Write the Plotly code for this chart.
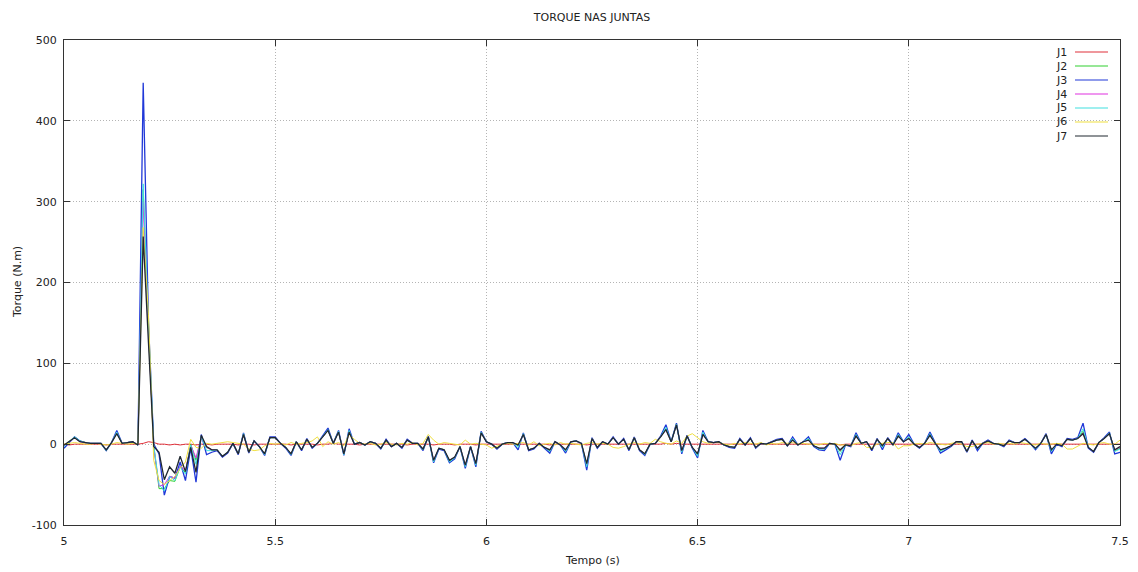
import numpy as np
import plotly.graph_objects as go

# time samples (s)
t_start, t_step, n_pts = 5.0, 0.0125, 201
tempo = [round(t_start + i * t_step, 4) for i in range(n_pts)]

J1 = [0, -1, 0, 0, 0, 0, 0, 0, -1, 0,
      0, 0, 0, 0, 0, 1, 3, 2, 0, 0,
      -1, 0, -1, 0, 0, -1, 0, 0, -1, 0,
      0, 0, 0, -1, 0, 0, -1, 0, 0, 0,
      0, 0, 0, -1, 0, 0, 0, 0, -1, 0,
      0, 1, 0, 0, 0, 0, -1, 0, 0, 0,
      0, 0, 0, 0, 0, -1, 0, 0, 0, 0,
      -1, 0, 0, 0, -1, 0, 0, 0, -1, 0,
      0, 0, 0, 0, 0, 0, 0, 0, 0, 0,
      0, 0, -1, 0, 0, 0, 0, 0, 0, -1,
      0, 0, 0, 0, 0, 0, 0, 0, 0, 0,
      0, 0, 0, 0, 1, 0, 1, 0, 0, 0,
      0, 0, 0, 0, 0, 0, 0, 0, 0, 0,
      0, 0, 0, 0, 0, 0, 0, 0, 0, 0,
      0, 0, 0, 0, 0, 0, 0, -1, 0, 0,
      0, 0, 0, 0, 0, 0, 0, 0, 0, 0,
      0, 0, 0, 0, 0, 0, 0, 0, 0, 0,
      0, 0, 0, 0, 0, 0, 0, 0, 0, 0,
      0, 0, 0, 0, 0, 0, 0, 0, 0, 0,
      0, 0, 0, 0, 0, 0, 0, 0, 0, 0,
      0]

J2 = [-2, 3, 9, 4, 2, 1, 1, 1, -7, 2,
      14, 1, 2, 3, -1, 315, 140, -2, -55, -55,
      -45, -46, -28, -35, 0, -20, 9, -4, -7, -7,
      -15, -10, 1, -12, 12, -10, 4, -3, -12, 8,
      8, 1, -4, -12, 3, -7, 6, -4, 1, 9,
      17, 1, 15, -12, 16, 0, 2, -1, 3, 1,
      -5, 5, -3, 1, -4, 5, 1, 1, -6, 9,
      -21, -5, -7, -21, -16, -3, -27, -3, -25, 14,
      3, 0, -5, 0, 2, 2, -2, 12, -7, -5,
      1, -4, -8, 3, -1, -8, 3, 4, 1, -26,
      7, -4, 3, 0, 8, 0, 6, -7, 8, -7,
      -12, 0, 1, 9, 19, 3, 24, -9, 10, -4,
      -13, 13, 3, 2, 3, -1, -3, -4, 6, -1,
      7, -4, 1, 0, 3, 5, 6, -2, 6, -1,
      3, 6, -2, -5, -6, 1, 0, -9, -1, -2,
      11, 1, 3, -7, 6, -3, 7, -1, 11, 3,
      8, 0, -4, 1, 12, 1, -8, -5, -2, 3,
      3, -9, 4, -6, 1, 4, 1, 0, -2, 4,
      2, 2, 6, 1, -6, 1, 12, -8, 0, -2,
      6, 5, 7, 16, -4, -9, 2, 7, 13, -8,
      -5]

J3 = [-5, 2, 9, 4, 2, 1, 1, 1, -8, 2,
      17, 1, 2, 3, -1, 447, 150, 0, -12, -63,
      -40, -42, -22, -45, -5, -47, 12, -13, -10, -8,
      -16, -11, 1, -13, 14, -11, 4, -3, -14, 9,
      9, 1, -5, -14, 3, -8, 7, -5, 1, 10,
      20, 1, 17, -14, 19, 0, 2, -1, 3, 1,
      -6, 6, -3, 1, -5, 6, 1, 1, -8, 10,
      -23, -6, -8, -23, -18, -3, -30, -3, -28, 16,
      3, 0, -6, 0, 2, 2, -7, 14, -8, -6,
      1, -5, -11, 3, -1, -11, 3, 4, 1, -32,
      8, -5, 3, 0, 9, 0, 7, -8, 9, -8,
      -14, 0, 1, 10, 24, 3, 26, -12, 11, -5,
      -17, 17, 3, 2, 3, -1, -4, -5, 7, -1,
      8, -5, 1, 0, 3, 6, 7, -2, 9, -1,
      3, 9, -3, -7, -8, 1, 0, -20, -1, -3,
      14, 1, 3, -8, 7, -7, 8, -1, 14, 3,
      12, 0, -5, 1, 15, 1, -11, -7, -3, 3,
      3, -10, 5, -8, 1, 5, 1, 0, -3, 5,
      2, 2, 7, 1, -7, 1, 13, -12, 0, -3,
      7, 6, 8, 26, -5, -10, 2, 8, 15, -12,
      -10]

J4 = [-2, 3, 8, 3, 2, 1, 1, 1, -7, 2,
      14, 1, 2, 3, -1, 300, 138, -4, -52, -50,
      -40, -42, -27, -33, -1, -17, 9, -4, -7, -7,
      -15, -10, 1, -12, 12, -10, 4, -3, -12, 8,
      8, 1, -4, -12, 3, -7, 6, -4, 1, 9,
      17, 1, 15, -12, 15, 0, 2, -1, 3, 1,
      -5, 5, -3, 1, -4, 5, 1, 1, -6, 9,
      -20, -5, -7, -20, -16, -3, -26, -3, -24, 14,
      3, 0, -5, 0, 2, 2, -1, 12, -7, -5,
      1, -4, -7, 3, -1, -7, 3, 4, 1, -25,
      7, -4, 3, 0, 8, 0, 6, -7, 8, -7,
      -12, 0, 1, 9, 18, 3, 24, -8, 10, -4,
      -12, 12, 3, 2, 3, -1, -3, -4, 6, -1,
      7, -4, 1, 0, 3, 5, 6, -2, 5, -1,
      3, 5, -2, -5, -5, 1, 0, -8, -1, -2,
      10, 1, 3, -7, 6, -2, 7, -1, 10, 3,
      7, 0, -4, 1, 11, 1, -7, -5, -2, 3,
      3, -9, 4, -5, 1, 4, 1, 0, -2, 4,
      2, 2, 6, 1, -5, 1, 12, -7, 0, -2,
      6, 5, 7, 14, -4, -9, 2, 7, 13, -7,
      -4]

J5 = [-3, 3, 9, 4, 2, 1, 1, 1, -8, 2,
      15, 1, 2, 3, -1, 322, 148, -1, -50, -58,
      -40, -45, -28, -37, -1, -25, 10, -8, -8, -7,
      -15, -10, 1, -12, 13, -10, 4, -3, -13, 8,
      8, 1, -4, -13, 3, -7, 6, -4, 1, 9,
      18, 1, 16, -13, 17, 0, 2, -1, 3, 1,
      -5, 5, -3, 1, -4, 5, 1, 1, -7, 9,
      -22, -5, -7, -22, -17, -3, -28, -3, -26, 15,
      3, 0, -5, 0, 2, 2, -4, 13, -7, -5,
      1, -4, -9, 3, -1, -9, 3, 4, 1, -28,
      7, -4, 3, 0, 8, 0, 6, -7, 8, -7,
      -13, 0, 1, 9, 21, 3, 25, -10, 10, -4,
      -15, 15, 3, 2, 3, -1, -3, -4, 6, -1,
      7, -4, 1, 0, 3, 5, 6, -2, 7, -1,
      3, 7, -2, -6, -6, 1, 0, -13, -1, -2,
      12, 1, 3, -7, 6, -4, 7, -1, 12, 3,
      9, 0, -4, 1, 13, 1, -9, -6, -2, 3,
      3, -9, 4, -6, 1, 4, 1, 0, -2, 4,
      2, 2, 6, 1, -6, 1, 12, -9, 0, -2,
      6, 5, 7, 19, -4, -9, 2, 7, 14, -9,
      -6]

J6 = [0, 1, 2, 1, 0, 0, 1, 0, -1, 0,
      2, 1, 0, 1, 0, 268, 160, -20, -45, -50,
      -45, -40, -30, -22, 6, -4, -5, 1, 0, 1,
      2, 3, 2, 1, 0, -6, -8, -7, -2, 1,
      0, 1, -1, 2, 0, 1, 2, 4, 9, -3,
      3, 0, 2, -2, 12, 6, 1, 0, 1, -1,
      0, 2, 0, -1, 1, 0, 2, -1, 1, 12,
      5, 0, 2, 1, 0, -1, 5, 0, 1, 0,
      -1, -5, -2, 0, 1, 0, 1, 2, -1, 3,
      -2, 0, 1, -1, 2, 0, 1, 0, -1, 1,
      2, 0, 1, 0, -4, -5, -3, 0, 2, 0,
      2, 1, 6, 3, 1, 0, 4, 1, 10, 13,
      8, 3, 1, 2, 2, 0, -1, 1, 0, 2,
      1, 0, 2, -1, 1, 0, 2, 1, 2, 0,
      1, 0, 0, -1, 1, 0, 1, -1, -1, -2,
      1, 2, -4, -4, 0, 1, 2, 2, -6, -2,
      -2, 0, 1, 0, 2, 1, 0, -1, 1, 2,
      0, -3, -3, 0, 1, 2, 0, 1, 0, 1,
      0, 2, 1, 0, -1, 1, 0, 0, 1, 0,
      -6, -6, -2, 1, 0, -1, 1, 2, 0, 0,
      5]

J7 = [-1, 3, 8, 3, 2, 1, 1, 1, -7, 2,
      13, 1, 2, 3, -1, 257, 125, -3, -10, -44,
      -28, -36, -15, -34, -4, -35, 11, -3, -7, -7,
      -15, -10, 1, -12, 12, -10, 4, -3, -12, 8,
      8, 1, -4, -12, 3, -7, 6, -4, 1, 9,
      17, 1, 15, -12, 15, 0, 2, -1, 3, 1,
      -5, 5, -3, 1, -4, 5, 1, 1, -6, 9,
      -20, -5, -7, -20, -16, -3, -26, -3, -24, 14,
      3, 0, -5, 0, 2, 2, -1, 12, -7, -5,
      1, -4, -7, 3, -1, -7, 3, 4, 1, -24,
      7, -4, 3, 0, 8, 0, 6, -7, 8, -7,
      -12, 0, 1, 9, 18, 3, 24, -8, 10, -4,
      -12, 12, 3, 2, 3, -1, -3, -4, 6, -1,
      7, -4, 1, 0, 3, 5, 6, -2, 5, -1,
      3, 5, -2, -5, -5, 1, 0, -7, -1, -2,
      10, 1, 3, -7, 6, -2, 7, -1, 10, 3,
      7, 0, -4, 1, 11, 1, -7, -5, -2, 3,
      3, -9, 4, -5, 1, 4, 1, 0, -2, 4,
      2, 2, 6, 1, -5, 1, 12, -7, 0, -2,
      6, 5, 7, 13, -4, -9, 2, 7, 13, -7,
      -3]

series_names = ["J1", "J2", "J3", "J4", "J5", "J6", "J7"]
series_values = [J1, J2, J3, J4, J5, J6, J7]
series_colors = ["#e0303a", "#30d030", "#2038d8", "#e030e0", "#40e0e0", "#f0e040", "#202830"]
series_widths = [1.0, 1.0, 1.3, 1.0, 1.0, 1.0, 1.3]

x_ticks = [5, 5.5, 6, 6.5, 7, 7.5]
x_tick_labels = ["5", "5.5", "6", "6.5", "7", "7.5"]
y_ticks = [-100, 0, 100, 200, 300, 400, 500]
y_tick_labels = ["-100", "0", "100", "200", "300", "400", "500"]

FONT = "DejaVu Sans"

fig = go.Figure()
for name, vals, col, w in zip(series_names, series_values, series_colors, series_widths):
    fig.add_trace(go.Scatter(x=tempo, y=vals, mode="lines", name=name,
                             line=dict(color=col, width=w), showlegend=False))

# gnuplot-style key (text, then line sample)
shapes = []
annotations = []
L, R, T, B = 64, 1120, 40, 525
W, H = R - L, B - T
shapes.append(dict(type="rect", xref="paper", yref="paper",
                   x0=(1050 - L) / W, x1=(1114 - L) / W,
                   y0=(B - 144) / H, y1=(B - 44) / H,
                   fillcolor="white", line=dict(width=0), layer="between"))
for k, (name, col) in enumerate(zip(series_names, series_colors)):
    ypx = 52 + 14 * k
    yp = (B - ypx) / H
    annotations.append(dict(x=(1069 - L) / W, y=yp, xref="paper", yref="paper",
                            text=name, showarrow=False, xanchor="right", yanchor="middle",
                            font=dict(family=FONT, size=11, color="#222")))
    shapes.append(dict(type="line", xref="paper", yref="paper",
                       x0=(1075 - L) / W, x1=(1108 - L) / W, y0=yp, y1=yp,
                       line=dict(color=col, width=1.2)))

# axis titles
annotations.append(dict(x=0.5, y=(B - 560) / H, xref="paper", yref="paper",
                        text="Tempo (s)", showarrow=False, xanchor="center", yanchor="middle",
                        font=dict(family=FONT, size=11, color="#222")))
annotations.append(dict(x=(17 - L) / W, y=(B - 282) / H, xref="paper", yref="paper",
                        text="Torque (N.m)", showarrow=False, textangle=-90,
                        xanchor="center", yanchor="middle",
                        font=dict(family=FONT, size=11, color="#222")))

fig.update_layout(
    width=1138, height=572,
    margin=dict(l=L, r=1138 - R, t=T, b=572 - B, autoexpand=False),
    paper_bgcolor="white", plot_bgcolor="white",
    title=dict(text="TORQUE NAS JUNTAS", x=0.5, xref="paper", y=1 - 17 / 572, yanchor="middle",
               font=dict(family=FONT, size=11, color="#222")),
    font=dict(family=FONT, size=11, color="#222"),
    shapes=shapes, annotations=annotations,
    showlegend=False,
)
GRID = dict(showgrid=True, gridcolor="#b4b4b4", griddash="1px,2px", gridwidth=1,
            showline=True, linecolor="#333", linewidth=1, mirror="ticks",
            ticks="inside", ticklen=6, tickcolor="#333", zeroline=False,
            automargin=False, tickfont=dict(family=FONT, size=11))
fig.update_xaxes(range=[5, 7.5], tickvals=x_ticks, ticktext=x_tick_labels,
                 ticklabelstandoff=6, **GRID)
fig.update_yaxes(range=[-100, 500], tickvals=y_ticks, ticktext=y_tick_labels,
                 ticklabelstandoff=4, **GRID)

fig.write_html("out.html", config={"displayModeBar": False},
               post_script="document.body.style.margin='0';document.body.style.padding='0';")
